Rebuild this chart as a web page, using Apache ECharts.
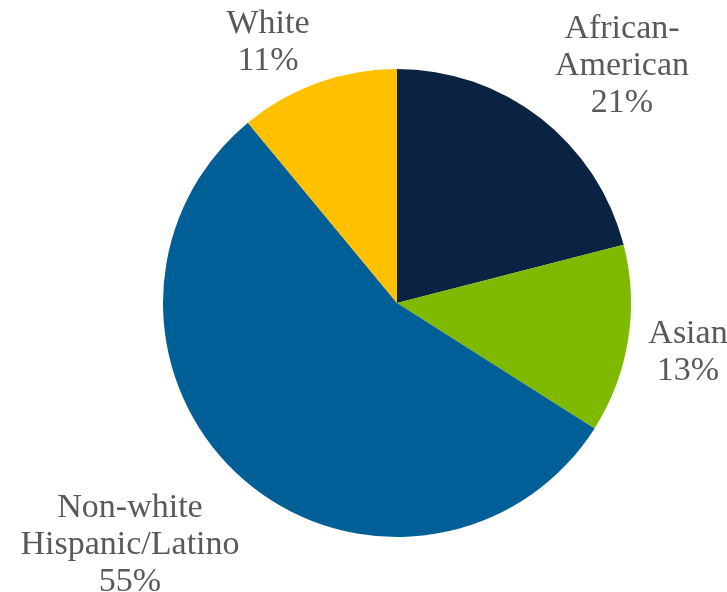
<!DOCTYPE html>
<html>
<head>
<meta charset="utf-8">
<script src="https://cdn.jsdelivr.net/npm/echarts@6/dist/echarts.min.js"></script>
<style>
html,body{margin:0;padding:0;background:#fff;}
#chart{width:727px;height:592px;}
</style>
</head>
<body>
<div id="chart"></div>
<script>
const categories = ["African-\nAmerican", "Asian", "Non-white\nHispanic/Latino", "White"];
const values = [21, 13, 55, 11];
const colors = ["#0b2343", "#7fba00", "#005f96", "#ffc000"];
const labelPos = [[622, 66], [688, 353], [130, 545], [268, 43]];

const chart = echarts.init(document.getElementById('chart'));
chart.setOption({
  animation: false,
  series: [{
    type: 'pie',
    center: [397, 303],
    radius: 234,
    startAngle: 90,
    clockwise: true,
    data: categories.map((c, i) => ({ name: c, value: values[i], itemStyle: { color: colors[i] } })),
    itemStyle: { borderWidth: 0 },
    label: {
      show: true,
      position: 'outside',
      formatter: p => p.name + '\n' + p.value + '%',
      fontFamily: '"Liberation Serif", "Times New Roman", serif',
      fontSize: 34,
      lineHeight: 37,
      color: '#595959',
      align: 'center',
      overflow: 'none',
      width: 300
    },
    labelLine: { show: false },
    labelLayout: function (params) {
      const pos = labelPos[params.dataIndex];
      return { x: pos[0], y: pos[1], align: 'center', verticalAlign: 'middle' };
    },
    emphasis: { disabled: true }
  }]
});
</script>
</body>
</html>
